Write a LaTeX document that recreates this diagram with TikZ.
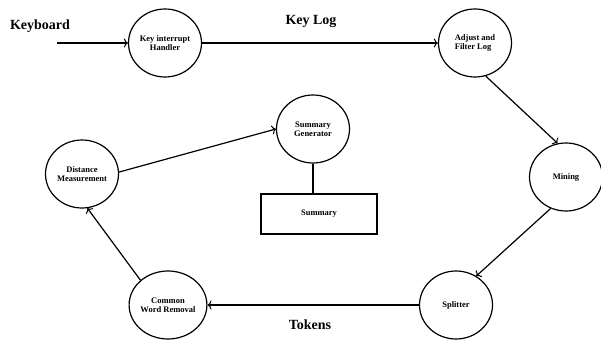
\documentclass[tikz,border=0pt]{standalone}
\usepackage{fontspec}
\setmainfont{Liberation Serif}
\usepackage{tikz}
\usetikzlibrary{shapes.geometric,arrows.meta}

\begin{document}
\begin{tikzpicture}[x=1pt, y=-1pt, line width=1.2pt,
  process/.style={draw, ellipse, minimum width=73pt, minimum height=68pt, inner sep=0pt,
    align=center, font=\bfseries\fontsize{8.5}{9}\selectfont},
  store/.style={draw, rectangle, minimum width=116pt, minimum height=40pt,
    font=\bfseries\fontsize{8.5}{9}\selectfont},
  flowlabel/.style={font=\bfseries\fontsize{14}{16}\selectfont},
  flow/.style={-{To[length=4pt,width=9pt,line width=1pt]}}]
\useasboundingbox (0,0) rectangle (601,344);

% processes
\node[process] (keyint) at (165,43) {Key interrupt\\Handler};
\node[process, align=left] (adjust) at (475,43) {Adjust and\\Filter Log};
\node[process] (mining) at (566,177) {Mining};
\node[process] (splitter) at (456,305) {Splitter};
\node[process] (common) at (168,305) {Common\\Word Removal};
\node[process] (distance) at (82,174) {Distance\\Measurement};
\node[process] (sumgen) at (313,129) {Summary\\Generator};
\node[store] (summary) at (319,214) {Summary};

% labels
\node[flowlabel] (keyboard) at (40,26) {Keyboard};
\node[flowlabel] (keylog) at (311,21) {Key Log};
\node[flowlabel] (tokens) at (310,325) {Tokens};
\coordinate (kbin) at (57,43);

% flows
\draw[flow] (kbin) -- (keyint.west);
\draw[flow] (keyint.east) -- (adjust.west);
\draw[flow] (adjust.-72) -- (mining.104);
\draw[flow] (mining.-116) -- (splitter.55);
\draw[flow] (splitter.west) -- (common.east);
\draw[flow] (common.138) -- (distance.-81);
\draw[flow] (distance.3) -- (sumgen.180);
\draw (sumgen.south) -- (sumgen.south |- summary.north);
\end{tikzpicture}
\end{document}
